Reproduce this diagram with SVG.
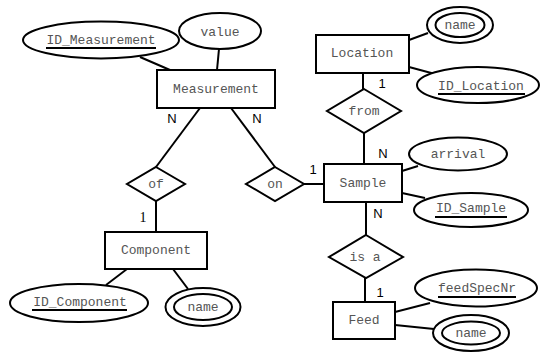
<svg xmlns="http://www.w3.org/2000/svg" width="540" height="353" viewBox="0 0 540 353">
<style>
.s{fill:#fff;stroke:#000;stroke-width:2}
.i{fill:none;stroke:#000;stroke-width:2}
.t{font-family:"Liberation Mono","Courier New",monospace;font-size:13px;fill:#555;text-anchor:middle}
.c{font-family:"Liberation Sans",Arial,sans-serif;font-size:13px;fill:#000;text-anchor:middle}
.u{stroke:#000;stroke-width:2}
#connectors line{stroke:#000;stroke-width:2}
</style>
<rect width="540" height="353" fill="#fff"/>
<g id="connectors">
<line x1="140" y1="57" x2="170" y2="70"/>
<line x1="219" y1="49" x2="217" y2="70"/>
<line x1="200" y1="108" x2="156" y2="167"/>
<line x1="231" y1="108" x2="275" y2="167"/>
<line x1="156" y1="201" x2="156" y2="232"/>
<line x1="304" y1="184" x2="324" y2="184"/>
<line x1="363" y1="73" x2="363" y2="89"/>
<line x1="364" y1="133" x2="364" y2="164"/>
<line x1="366" y1="202" x2="366" y2="235"/>
<line x1="365" y1="278" x2="365" y2="302"/>
<line x1="409" y1="40" x2="428" y2="33"/>
<line x1="409" y1="67" x2="435" y2="74"/>
<line x1="402" y1="171" x2="418" y2="166"/>
<line x1="402" y1="193" x2="425" y2="198"/>
<line x1="395" y1="312" x2="430" y2="303"/>
<line x1="395" y1="325" x2="434" y2="329"/>
<line x1="127" y1="269" x2="106" y2="285"/>
<line x1="173" y1="269" x2="188" y2="289"/>
</g>
<g id="ID_Measurement"><ellipse class="s" cx="101" cy="40" rx="78" ry="18.5"/><text class="t" x="101" y="44">ID_Measurement</text><line class="u" x1="46" y1="48" x2="156" y2="48"/></g>
<g id="value"><ellipse class="s" cx="220" cy="31" rx="41" ry="18"/><text class="t" x="220" y="36">value</text></g>
<g id="Measurement"><rect class="s" x="157" y="70" width="118" height="38"/><text class="t" x="216" y="93">Measurement</text></g>
<g id="of"><polygon class="s" points="156,167 185,184 156,201 127,184"/><text class="t" x="156" y="188">of</text></g>
<g id="on"><polygon class="s" points="275,167 304,184 275,201 246,184"/><text class="t" x="275" y="188">on</text></g>
<g id="Location"><rect class="s" x="316" y="35" width="93" height="38"/><text class="t" x="362" y="57">Location</text></g>
<g id="LocationName"><ellipse class="s" cx="460" cy="25" rx="33" ry="18"/><ellipse class="i" cx="460" cy="25" rx="24.5" ry="12"/><text class="t" x="460" y="29">name</text></g>
<g id="ID_Location"><ellipse class="s" cx="478" cy="85" rx="61" ry="18"/><text class="t" x="481" y="90">ID_Location</text><line class="u" x1="438" y1="94" x2="525" y2="94"/></g>
<g id="from"><polygon class="s" points="364,89 401,111 364,133 327,111"/><text class="t" x="364" y="115">from</text></g>
<g id="Sample"><rect class="s" x="324" y="164" width="78" height="38"/><text class="t" x="363" y="187">Sample</text></g>
<g id="arrival"><ellipse class="s" cx="458" cy="154" rx="49" ry="16.5"/><text class="t" x="458" y="158">arrival</text></g>
<g id="ID_Sample"><ellipse class="s" cx="471" cy="210" rx="57" ry="17"/><text class="t" x="471" y="212">ID_Sample</text><line class="u" x1="435" y1="217" x2="507" y2="217"/></g>
<g id="isa"><polygon class="s" points="366,235 403,257 366,278 329,257"/><text class="t" x="365" y="261">is a</text></g>
<g id="Feed"><rect class="s" x="333" y="302" width="62" height="37"/><text class="t" x="364" y="324">Feed</text></g>
<g id="feedSpecNr"><ellipse class="s" cx="476" cy="288" rx="61" ry="18.5"/><text class="t" x="477" y="292">feedSpecNr</text><line class="u" x1="438" y1="297" x2="516" y2="297"/></g>
<g id="FeedName"><ellipse class="s" cx="471" cy="333" rx="38" ry="18"/><ellipse class="i" cx="471" cy="333" rx="29" ry="11.5"/><text class="t" x="471" y="337">name</text></g>
<g id="Component"><rect class="s" x="105" y="232" width="102" height="37"/><text class="t" x="156" y="254">Component</text></g>
<g id="ID_Component"><ellipse class="s" cx="79" cy="303" rx="69" ry="19"/><text class="t" x="80" y="306">ID_Component</text><line class="u" x1="32" y1="310" x2="127" y2="310"/></g>
<g id="ComponentName"><ellipse class="s" cx="203" cy="307" rx="37.5" ry="19"/><ellipse class="i" cx="203" cy="307" rx="29" ry="13"/><text class="t" x="203" y="311">name</text></g>
<g id="cardinalities">
<text class="c" x="172" y="123">N</text>
<text class="c" x="257" y="123">N</text>
<text class="c" x="382" y="88">1</text>
<text class="c" x="383" y="158">N</text>
<text class="c" x="313" y="174">1</text>
<text class="c" x="378" y="218">N</text>
<text class="c" x="380" y="297">1</text>
<text x="143" y="222" style="font-family:'Liberation Serif','Times New Roman',serif;font-size:14px;text-anchor:middle">1</text>
</g>
</svg>
